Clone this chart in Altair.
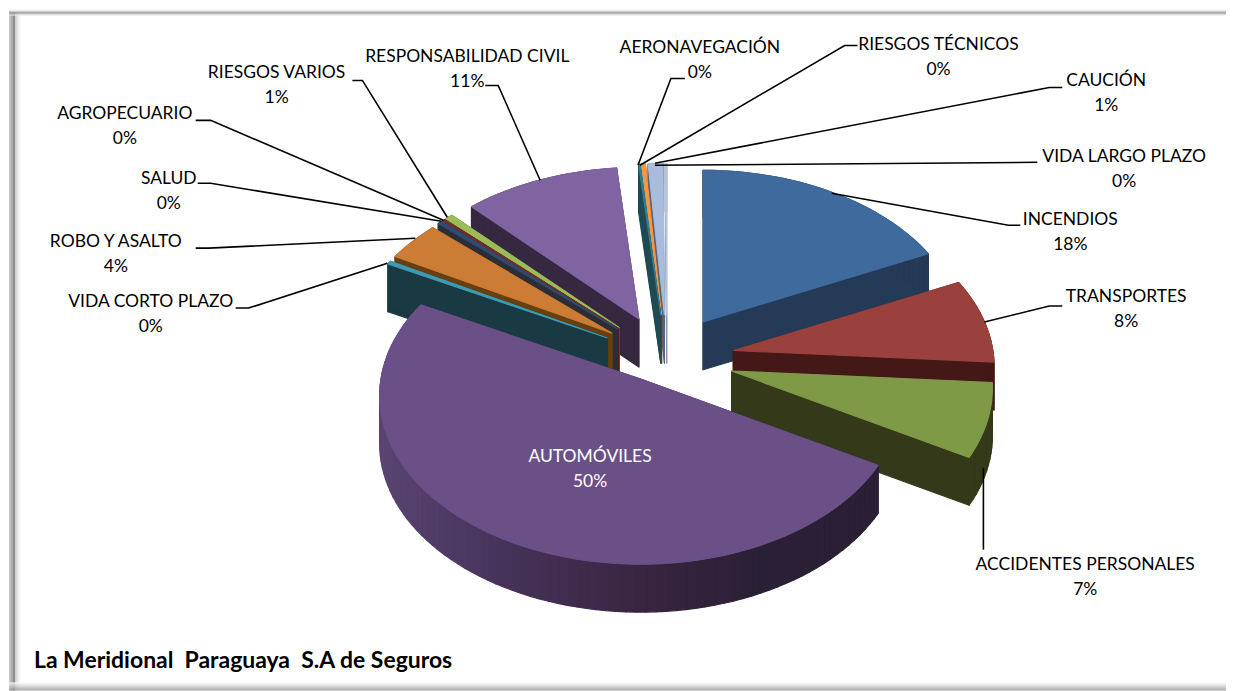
import math
import altair as alt
import pandas as pd

# ---- values (share of premiums, %)
names = ["INCENDIOS", "TRANSPORTES", "ACCIDENTES PERSONALES", "AUTOMÓVILES",
         "VIDA CORTO PLAZO", "ROBO Y ASALTO", "SALUD", "AGROPECUARIO",
         "RIESGOS VARIOS", "RESPONSABILIDAD CIVIL", "AERONAVEGACIÓN",
         "RIESGOS TÉCNICOS", "CAUCIÓN", "VIDA LARGO PLAZO"]
values = [18.0, 8.1, 7.1, 49.5, 0.3, 3.8, 0.3, 0.2, 0.55, 10.65, 0.1, 0.3, 1.0, 0.1]
explode = [.26, .26, .26, .14, .26, .26, .26, .26, .26, .26, .26, .26, .26, .26]
nudge_x = [0, 0, 0, -9, 0, 0, 0, 0, 0, 0, 0, 0, 0, 0]

# ---- styles
top_col = ["#3f6a9e", "#9a413e", "#7f9a47", "#6b5088", "#3f9bb3", "#cc7c34", "#2c4d75",
           "#772c2a", "#9bbb59", "#8064a2", "#2f7f92", "#f79646", "#a9bcdc", "#b4c5df"]
wall_col = ["#243a56", "#441816", "#343a19", "#2a1f35", "#193943", "#66400f", "#2c2d35",
            "#5a2218", "#43521f", "#362841", "#1f4a54", "#7a4415", "#55657f", "#8796ae"]
auto_ramp = [(370, "#5b4674"), (500, "#46335a"), (650, "#37243f"), (760, "#2a2036"), (890, "#2a1f35")]

# label layout: text centre, line 1 y, then leader line path
label_x = [1071, 1127, 1086, 590, 150, 115, 168, 124, 276, 467, 700, 939, 1107, 1125]
label_y = [218, 295, 563, 455, 300, 240, 177, 112, 71, 55, 46, 43, 79, 155]
leaders = [
    [(1021, 225), (1009, 225), (832, 193)],
    [(1063, 306), (1050, 306), (985, 322)],
    [(984, 550), (984, 468)],
    [],
    [(235, 308), (248, 308), (387, 263)],
    [(195, 248), (208, 248), (415, 238)],
    [(197, 183), (210, 183), (441, 221)],
    [(195, 120), (210, 120), (443, 220)],
    [(352, 80), (362, 80), (447, 217)],
    [(485, 85), (498, 85), (540, 180)],
    [(685, 78), (671, 78), (638, 165)],
    [(858, 45), (845, 45), (640, 165)],
    [(1063, 87), (1050, 87), (655, 163)],
    [(1038, 162), (655, 165)],
]
footer = "La Meridional\u00a0\u00a0Paraguaya\u00a0\u00a0S.A de Seguros"

# frame shades, outermost first
left_shades = ["#c8c8c8", "#c0c0c0", "#b0b0b0", "#a8a8a8", "#909090", "#8c8c8c",
               "#d0d0d0", "#dcdcdc", "#e6e6e6", "#eeeeee", "#f5f5f5", "#fbfbfb"]
top_shades = ["#f0f0f0", "#e0e0e0", "#a0a0a0", "#8c8c8c", "#b0b0b0", "#e8e8e8"]
bottom_shades = ["#f8f8f8", "#eeeeee", "#e2e2e2", "#d4d4d4", "#c6c6c6", "#b8b8b8", "#a8a8a8", "#9a9a9a"]

# ---- pie geometry (page pixels, handled by x/y linear scales)
W, H = 1227, 691
CX, CY, SX, SY, PERSP, DEPTH = 667, 358.5, 260, 167, 0.10, 48


def project(ax, ay, th):
    w = -math.cos(th)
    m = 1 / (1 - PERSP * w)
    return ax + SX * math.sin(th) * m, ay + SY * w * m


polys = []


def add(points, fill):
    pid = len(polys)
    polys.append((pid, points + points[:1], fill))


def ramp(x):
    for (x0, c0), (x1, c1) in zip(auto_ramp, auto_ramp[1:]):
        if x <= x1:
            t = max(0, (x - x0) / (x1 - x0))
            a = [int(c0[i:i + 2], 16) for i in (1, 3, 5)]
            b = [int(c1[i:i + 2], 16) for i in (1, 3, 5)]
            return "#%02x%02x%02x" % tuple(round(p + (q - p) * t) for p, q in zip(a, b))
    return auto_ramp[-1][1]


slices = []
cum = 0
for i, v in enumerate(values):
    slices.append((i, cum / 100 * 2 * math.pi, (cum + v) / 100 * 2 * math.pi))
    cum += v

for i, a0, a1 in sorted(slices, key=lambda s: -math.cos((s[1] + s[2]) / 2)):
    b = (a0 + a1) / 2
    ax = CX + explode[i] * SX * math.sin(b) + nudge_x[i]
    ay = CY - explode[i] * SY * math.cos(b)
    n = max(2, int((a1 - a0) / math.radians(2)) + 1)
    arc = [project(ax, ay, a0 + (a1 - a0) * k / n) for k in range(n + 1)]
    dn = lambda p: (p[0], p[1] + DEPTH)
    for e in (arc[0], arc[-1]):
        add([(ax, ay), e, dn(e), (ax, ay + DEPTH)], wall_col[i])
    for p, q in zip(arc, arc[1:]):
        fill = ramp((p[0] + q[0]) / 2) if i == 3 else wall_col[i]
        add([p, q, dn(q), dn(p)], fill)
    add([(ax, ay)] + arc, top_col[i])

poly_rows = []
for pid, pts, fill in polys:
    for k, (x, y) in enumerate(pts):
        poly_rows.append({"pid": pid, "k": k, "x": x, "y": y, "fill": fill})
poly_df = pd.DataFrame(poly_rows)

xs = alt.Scale(domain=[8, W], nice=False, zero=False)
ys = alt.Scale(domain=[H, 8], nice=False, zero=False)
X = alt.X("x:Q", scale=xs, axis=None)
Y = alt.Y("y:Q", scale=ys, axis=None)

pie = alt.Chart(poly_df).mark_line(strokeWidth=1.1, interpolate="linear", strokeJoin="round").encode(
    x=X, y=Y, detail="pid:N", order=alt.Order("k:Q"),
    fill=alt.Fill("fill:N", scale=None), stroke=alt.Stroke("fill:N", scale=None),
)

lead_rows = []
for i, path in enumerate(leaders):
    for k, (x, y) in enumerate(path):
        lead_rows.append({"who": names[i], "k": k, "x": x, "y": y})
lead = alt.Chart(pd.DataFrame(lead_rows)).mark_line(color="#000000", strokeWidth=1.6).encode(
    x=X, y=Y, detail="who:N", order=alt.Order("k:Q"))

text_rows = []
for n, v, lx, ly in zip(names, values, label_x, label_y):
    c = "#ffffff" if n == "AUTOMÓVILES" else "#000000"
    text_rows.append({"x": lx, "y": ly, "t": n, "c": c})
    text_rows.append({"x": lx, "y": ly + 25, "t": f"{round(v)}%", "c": c})
labels = alt.Chart(pd.DataFrame(text_rows)).mark_text(
    font="Lato", fontSize=17.5, align="center", baseline="middle", dy=2).encode(
    x=X, y=Y, text="t:N", color=alt.Color("c:N", scale=None))

foot = alt.Chart(pd.DataFrame({"x": [33], "y": [660], "t": [footer]})).mark_text(
    font="Lato", fontSize=23, fontWeight="bold", align="left", baseline="middle", color="#000000", dy=2).encode(
    x=X, y=Y, text="t:N")

# frame
frame_rows = []
for j, c in enumerate(left_shades):
    frame_rows.append({"x": 8.5 + j, "y": 12, "x2": 8.5 + j, "y2": 691, "c": c})
for j, c in enumerate(top_shades):
    frame_rows.append({"x": 8, "y": 9.5 + j, "x2": W, "y2": 9.5 + j, "c": c})
for j, c in enumerate(bottom_shades):
    frame_rows.append({"x": 8, "y": 683.5 + j, "x2": W, "y2": 683.5 + j, "c": c})
frame = alt.Chart(pd.DataFrame(frame_rows)).mark_rule(strokeWidth=1).encode(
    x=X, y=Y, x2="x2:Q", y2="y2:Q", color=alt.Color("c:N", scale=None))

chart = alt.layer(frame, pie, lead, labels, foot).properties(
    width=W - 8, height=H - 8, padding=0, background="#ffffff",
).configure_view(stroke=None)
chart.save("out.html", embed_options={"renderer": "svg", "actions": False})
